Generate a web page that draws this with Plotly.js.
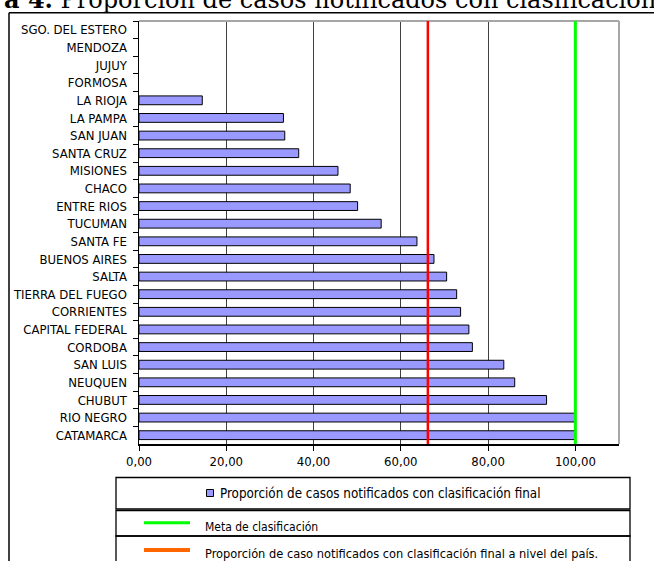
<!DOCTYPE html>
<html>
<head>
<meta charset="utf-8">
<script src="https://cdn.plot.ly/plotly-3.0.1.min.js"></script>
<style>
  html, body { margin: 0; padding: 0; background: #fff; overflow: hidden; }
  #chart { width: 654px; height: 561px; }
</style>
</head>
<body>
<div id="chart"></div>
<script>
// Provinces, listed from top to bottom of the chart
const provincias = [
  'SGO. DEL ESTERO', 'MENDOZA', 'JUJUY', 'FORMOSA', 'LA RIOJA', 'LA PAMPA',
  'SAN JUAN', 'SANTA CRUZ', 'MISIONES', 'CHACO', 'ENTRE RIOS', 'TUCUMAN',
  'SANTA FE', 'BUENOS AIRES', 'SALTA', 'TIERRA DEL FUEGO', 'CORRIENTES',
  'CAPITAL FEDERAL', 'CORDOBA', 'SAN LUIS', 'NEUQUEN', 'CHUBUT',
  'RIO NEGRO', 'CATAMARCA'
];

// Proportion of notified cases with final classification (%)
const proporcion = [
  null, null, null, null, 14.5, 33.1,
  33.4, 36.6, 45.6, 48.4, 50.1, 55.5,
  63.7, 67.6, 70.5, 72.8, 73.7,
  75.6, 76.4, 83.6, 86.1, 93.4,
  100, 100
];

// Classification goal and national proportion (%)
const metaClasificacion = 100;
const proporcionPais = 66.2;

const xTickValues = [0, 20, 40, 60, 80, 100];
const xTickLabels = ['0,00', '20,00', '40,00', '60,00', '80,00', '100,00'];

const tituloTexto = '<b>a 4.</b> Proporción de casos notificados con clasificación';
const leyendaBarras = 'Proporción de casos notificados con clasificación final';
const leyendaMeta = 'Meta de clasificación';
const leyendaPais = 'Proporción de caso notificados con clasificación final a nivel del país.';

// Figure size in pixels; helpers map pixel positions to paper coordinates
const W = 654, H = 561;
const px = v => v / W;
const py = v => 1 - v / H;

const sansFont = '"DejaVu Sans Condensed", "DejaVu Sans", sans-serif';

const plotLeft = 139, plotRight = 619, plotTop = 21, plotBottom = 444;

const barTrace = {
  type: 'bar',
  orientation: 'h',
  x: proporcion,
  y: provincias,
  marker: { color: '#9999FF', line: { color: '#000000', width: 1 } },
  hoverinfo: 'none',
  showlegend: false
};

const line = (x0, y0, x1, y1, color, width) => ({
  type: 'line', xref: 'paper', yref: 'paper',
  x0: px(x0), y0: py(y0), x1: px(x1), y1: py(y1),
  line: { color: color, width: width }
});

const rect = (x0, y0, x1, y1, lineColor, width, fill) => ({
  type: 'rect', xref: 'paper', yref: 'paper',
  x0: px(x0), y0: py(y0), x1: px(x1), y1: py(y1),
  line: { color: lineColor, width: width },
  fillcolor: fill || 'rgba(0,0,0,0)'
});

const shapes = [
  // outer chart frame
  line(9, 12.7, 654, 12.7, '#000000', 1.5),
  line(9, 12.7, 9, 561, '#000000', 1.5),
  // plot area top and right border
  line(plotLeft, plotTop, plotRight, plotTop, '#a6a6a6', 2),
  line(plotRight, plotTop, plotRight, plotBottom, '#a6a6a6', 2),
  // reference lines drawn on the data scale
  {
    type: 'line', xref: 'x', yref: 'paper', layer: 'above',
    x0: proporcionPais, x1: proporcionPais, y0: py(plotBottom), y1: py(plotTop),
    line: { color: '#FF0000', width: 2.5 }
  },
  {
    type: 'line', xref: 'x', yref: 'paper', layer: 'above',
    x0: metaClasificacion, x1: metaClasificacion, y0: py(plotBottom), y1: py(plotTop),
    line: { color: '#00FF00', width: 3 }
  },
  // legend boxes
  rect(116, 477.5, 630, 509, '#000000', 1.3),
  rect(116, 510.5, 630, 536, '#000000', 1.3),
  rect(116, 536, 630, 575, '#000000', 1.3),
  // legend swatches
  rect(206.5, 489.5, 213.5, 496.5, '#000000', 1, '#9999FF'),
  line(144, 522.7, 190, 522.7, '#00FF00', 3),
  line(144, 550, 190, 550, '#FF6600', 4)
];

const annotations = [
  {
    text: tituloTexto, xref: 'paper', yref: 'paper',
    x: px(2), y: py(-1), xanchor: 'left', yanchor: 'middle', showarrow: false,
    font: { family: '"DejaVu Serif", "Liberation Serif", serif', size: 24, color: '#000' }
  },
  {
    text: leyendaBarras, xref: 'paper', yref: 'paper',
    x: px(218), y: py(493.3), xanchor: 'left', yanchor: 'middle', showarrow: false,
    font: { family: sansFont, size: 13.3, color: '#000' }
  },
  {
    text: leyendaMeta, xref: 'paper', yref: 'paper',
    x: px(203), y: py(527), xanchor: 'left', yanchor: 'middle', showarrow: false,
    font: { family: sansFont, size: 12, color: '#000' }
  },
  {
    text: leyendaPais, xref: 'paper', yref: 'paper',
    x: px(203), y: py(553), xanchor: 'left', yanchor: 'middle', showarrow: false,
    font: { family: sansFont, size: 12.7, color: '#000' }
  }
];

const layout = {
  width: W,
  height: H,
  margin: { l: 0, r: 0, t: 0, b: 0, pad: 0 },
  paper_bgcolor: '#ffffff',
  plot_bgcolor: '#ffffff',
  showlegend: false,
  bargap: 0.5,
  xaxis: {
    domain: [px(plotLeft), px(plotRight)],
    range: [0, 110],
    tickvals: xTickValues,
    ticktext: xTickLabels,
    ticks: 'outside',
    ticklen: 5,
    tickcolor: '#000000',
    tickwidth: 1,
    showgrid: true,
    gridcolor: '#404040',
    gridwidth: 1,
    zeroline: false,
    showline: true,
    linecolor: '#000000',
    linewidth: 1.5,
    tickfont: { family: sansFont, size: 13, color: '#000' },
    fixedrange: true
  },
  yaxis: {
    domain: [1 - plotBottom / H, 1 - plotTop / H],
    type: 'category',
    categoryorder: 'array',
    categoryarray: provincias,
    autorange: 'reversed',
    ticks: 'outside',
    tickson: 'boundaries',
    ticklen: 5,
    ticklabelstandoff: 8,
    tickcolor: '#000000',
    tickwidth: 1,
    showgrid: false,
    zeroline: false,
    showline: true,
    linecolor: '#000000',
    linewidth: 1.5,
    tickfont: { family: sansFont, size: 13, color: '#000' },
    fixedrange: true
  },
  shapes: shapes,
  annotations: annotations
};

Plotly.newPlot('chart', [barTrace], layout, { staticPlot: true, displayModeBar: false });
</script>
</body>
</html>
